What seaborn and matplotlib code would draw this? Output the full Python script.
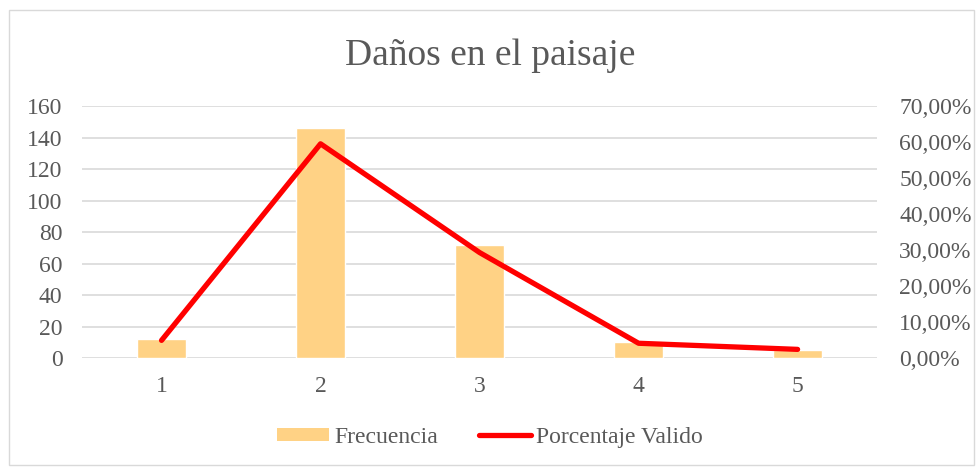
import numpy as np
import pandas as pd
import matplotlib.pyplot as plt
import seaborn as sns
from matplotlib.patches import Patch, Rectangle
from matplotlib.lines import Line2D
from matplotlib.ticker import FuncFormatter

categorias = ['1', '2', '3', '4', '5']
frecuencia = [12, 146, 72, 10, 5]
porcentaje = [4.9, 59.5, 29.3, 4.1, 2.4]

BAR_COLOR = '#FFD285'
LINE_COLOR = '#FF0000'
TEXT_COLOR = '#595959'
GRID_COLOR = '#D9D9D9'

df = pd.DataFrame({'cat': categorias, 'frec': frecuencia, 'pct': porcentaje})

sns.set_style('white')
plt.rcParams['font.family'] = ['Liberation Serif', 'DejaVu Serif']

fig = plt.figure(figsize=(9.8, 4.68), dpi=100)
ax = fig.add_axes([0.0837, 0.235, 0.8113, 0.5385])

sns.barplot(data=df, x='cat', y='frec', color=BAR_COLOR, width=0.31,
            saturation=1, ax=ax, zorder=2)
ax.set_ylim(0, 160)
ax.set_yticks(range(0, 161, 20))
ax.set_xlim(-0.5, 4.5)
ax.set_xlabel(''); ax.set_ylabel('')
ax.yaxis.grid(True, color=GRID_COLOR, lw=1.2, zorder=0)
ax.set_axisbelow(True)
for s in ax.spines.values():
    s.set_visible(False)
ax.tick_params(axis='both', length=0, labelsize=17, colors=TEXT_COLOR)
ax.tick_params(axis='x', pad=13)
ax.tick_params(axis='y', pad=14)

ax2 = ax.twinx()
sns.lineplot(data=df, x='cat', y='pct', color=LINE_COLOR, lw=3.8,
             sort=False, ax=ax2, solid_capstyle='round')
ax2.set_ylim(0, 70)
ax2.set_yticks(range(0, 71, 10))
ax2.yaxis.set_major_formatter(FuncFormatter(lambda v, p: f'{v:.2f}%'.replace('.', ',')))
ax2.set_ylabel('')
for s in ax2.spines.values():
    s.set_visible(False)
ax2.tick_params(axis='y', length=0, labelsize=17, colors=TEXT_COLOR, pad=16)
ax2.grid(False)

fig.text(0.5, 0.88, 'Daños en el paisaje', ha='center', va='center',
         fontsize=27, color=TEXT_COLOR)

handles = [Patch(facecolor=BAR_COLOR, edgecolor='none'),
           Line2D([0], [0], color=LINE_COLOR, lw=3.8, solid_capstyle='round')]
fig.legend(handles, ['Frecuencia', 'Porcentaje Valido'], loc='center',
           bbox_to_anchor=(0.5, 0.066), ncol=2, frameon=False, fontsize=17,
           labelcolor=TEXT_COLOR, handlelength=2.2, handleheight=0.5,
           handletextpad=0.25, columnspacing=1.7)

fig.patches.append(Rectangle((0.009, 0.006), 0.985, 0.972, transform=fig.transFigure,
                             fill=False, edgecolor=GRID_COLOR, lw=1))

fig.savefig('out.png', dpi=100)
